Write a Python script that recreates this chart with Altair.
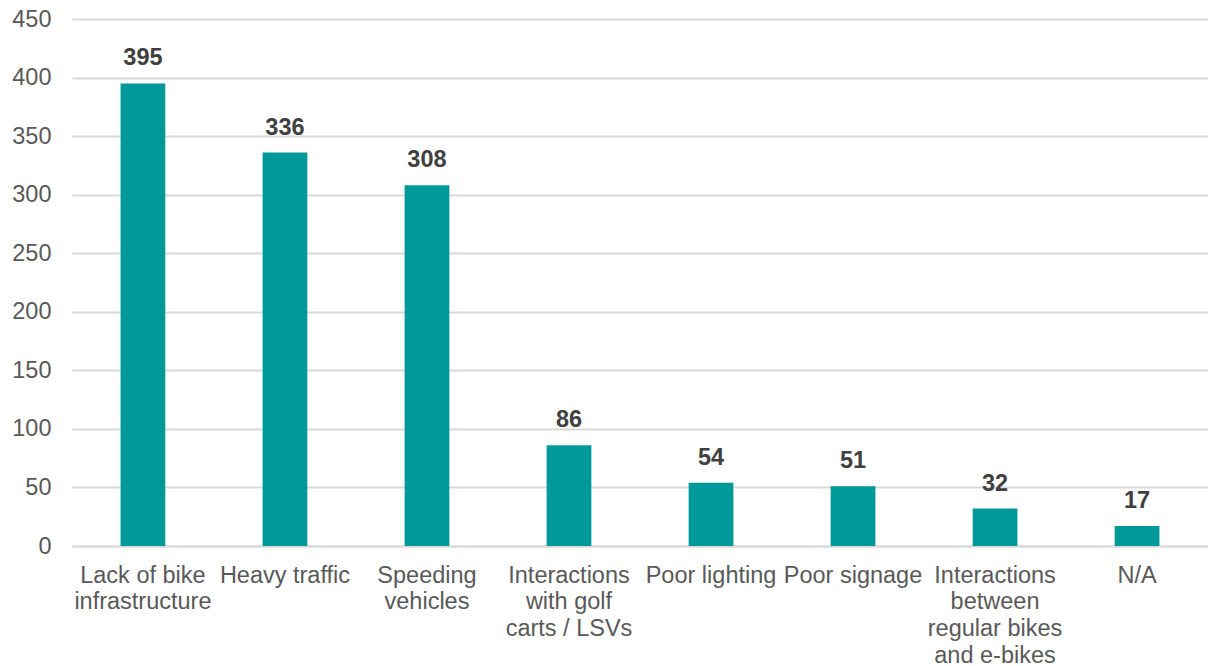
import altair as alt
import pandas as pd

# Reported safety concerns and how many respondents chose each
categories = [
    "Lack of bike\ninfrastructure",
    "Heavy traffic",
    "Speeding\nvehicles",
    "Interactions\nwith golf\ncarts / LSVs",
    "Poor lighting",
    "Poor signage",
    "Interactions\nbetween\nregular bikes\nand e-bikes",
    "N/A",
]
counts = [395, 336, 308, 86, 54, 51, 32, 17]
y_ticks = [0, 50, 100, 150, 200, 250, 300, 350, 400, 450]

df = pd.DataFrame({"concern": categories, "count": counts})

FONT = "Liberation Sans"
BAR = "#009999"
FS = 23.5

x = alt.X(
    "concern:N",
    sort=categories,
    title=None,
    scale=alt.Scale(paddingInner=0.685, paddingOuter=0.342),
    axis=alt.Axis(
        labelAngle=0,
        labelExpr='split(datum.label, "\\n")',
        labelFont=FONT,
        labelFontSize=FS,
        labelColor="#595959",
        labelLineHeight=26.7,
        labelPadding=17,
        labelLimit=220,
        ticks=False,
        domain=True,
        domainColor="#d9d9d9",
        domainWidth=2,
        grid=False,
    ),
)
y = alt.Y(
    "count:Q",
    title=None,
    scale=alt.Scale(domain=[0, 450], nice=False),
    axis=alt.Axis(
        values=y_ticks,
        labelFont=FONT,
        labelFontSize=FS,
        labelColor="#595959",
        labelPadding=21,
        ticks=False,
        domain=False,
        grid=True,
        gridColor="#d9d9d9",
        gridWidth=2,
    ),
)

bars = alt.Chart(df).mark_bar(color=BAR).encode(x=x, y=y)

labels = alt.Chart(df).mark_text(
    font=FONT,
    fontSize=FS,
    fontWeight="bold",
    color="#404040",
    baseline="bottom",
    dy=-13,
).encode(x=x, y=y, text="count:Q")

chart = (
    alt.layer(bars, labels)
    .properties(
        width=1136,
        height=527,
        background="white",
        autosize=alt.AutoSizeParams(type="none"),
        padding={"left": 72, "top": 19, "right": 0, "bottom": 120},
    )
    .configure_view(stroke="transparent")
)

chart.save("out.html", embed_options={"renderer": "svg", "actions": False})
